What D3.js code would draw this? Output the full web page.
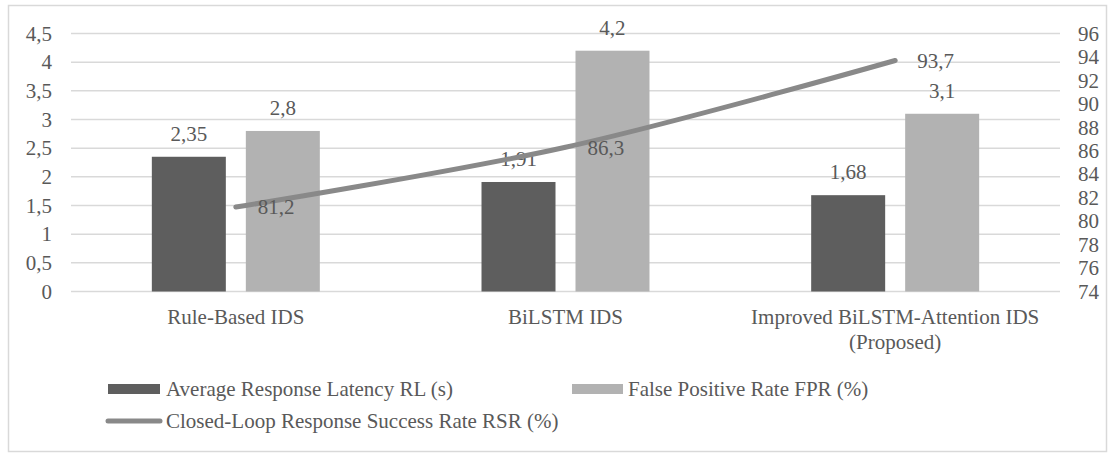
<!DOCTYPE html>
<html>
<head>
<meta charset="utf-8">
<script src="https://cdn.jsdelivr.net/npm/d3@7"></script>
<style>
  html, body { margin: 0; padding: 0; background: #fff; }
  svg { display: block; }
  text { font-family: "Liberation Serif", "DejaVu Serif", serif; fill: #595959; }
</style>
</head>
<body>
<svg id="chart" width="1108" height="456"></svg>
<script>
// Categories and series
const categories = ["Rule-Based IDS", "BiLSTM IDS", "Improved BiLSTM-Attention IDS\n(Proposed)"];
const latency = [2.35, 1.91, 1.68];        // Average Response Latency RL (s)
const fpr = [2.8, 4.2, 3.1];               // False Positive Rate FPR (%)
const rsr = [81.2, 86.3, 93.7];            // Closed-Loop Response Success Rate RSR (%)

const seriesNames = [
  "Average Response Latency RL (s)",
  "False Positive Rate FPR (%)",
  "Closed-Loop Response Success Rate RSR (%)"
];
const leftTicks = [0, 0.5, 1, 1.5, 2, 2.5, 3, 3.5, 4, 4.5];
const rightTicks = [74, 76, 78, 80, 82, 84, 86, 88, 90, 92, 94, 96];

const FONT = "'Liberation Serif', 'DejaVu Serif', serif";
const colors = { latency: "#5e5e5e", fpr: "#b2b2b2", line: "#898989", grid: "#d9d9d9" };
const fmt = v => String(v).replace(".", ",");

const svg = d3.select("#chart").attr("font-family", FONT);
const plot = { left: 71, right: 1060, top: 33.5, bottom: 291.5 };

// Outer chart border
svg.append("rect")
  .attr("x", 8.5).attr("y", 5.5)
  .attr("width", 1098).attr("height", 446)
  .attr("fill", "none").attr("stroke", colors.grid).attr("stroke-width", 1.5);

const x0 = d3.scaleBand().domain(categories).range([plot.left, plot.right]).padding(0);
const x1 = d3.scaleBand().domain(["latency", "fpr"])
  .range([0, x0.bandwidth()]).paddingInner(0.2128).paddingOuter(0.86);
const yL = d3.scaleLinear().domain([0, 4.5]).range([plot.bottom, plot.top]);
const yR = d3.scaleLinear().domain([74, 96]).range([plot.bottom, plot.top]);

// Gridlines from the left axis
svg.append("g").selectAll("line").data(leftTicks).join("line")
  .attr("x1", plot.left).attr("x2", plot.right)
  .attr("y1", d => yL(d)).attr("y2", d => yL(d))
  .attr("stroke", colors.grid).attr("stroke-width", 1.5);

// Left axis labels
const leftAxis = d3.axisLeft(yL).tickValues(leftTicks).tickFormat(fmt).tickSize(0).tickPadding(0);
const gL = svg.append("g").attr("transform", "translate(52,0)").call(leftAxis)
  .attr("font-family", FONT).attr("font-size", 21);
gL.select(".domain").remove();
gL.selectAll("text").attr("fill", "#595959");

// Right axis labels
const rightAxis = d3.axisRight(yR).tickValues(rightTicks).tickFormat(fmt).tickSize(0).tickPadding(0);
const gR = svg.append("g").attr("transform", "translate(1078,0)").call(rightAxis)
  .attr("font-family", FONT).attr("font-size", 21);
gR.select(".domain").remove();
gR.selectAll("text").attr("fill", "#595959");

// Bars
const barData = [];
categories.forEach((c, i) => {
  barData.push({ cat: c, key: "latency", value: latency[i] });
  barData.push({ cat: c, key: "fpr", value: fpr[i] });
});
svg.append("g").selectAll("rect").data(barData).join("rect")
  .attr("x", d => x0(d.cat) + x1(d.key))
  .attr("width", x1.bandwidth())
  .attr("y", d => yL(d.value))
  .attr("height", d => yL(0) - yL(d.value))
  .attr("fill", d => colors[d.key]);

// Bar value labels
svg.append("g").selectAll("text").data(barData).join("text")
  .attr("x", d => x0(d.cat) + x1(d.key) + x1.bandwidth() / 2)
  .attr("y", d => yL(d.value) - 16)
  .attr("text-anchor", "middle").attr("font-size", 21)
  .text(d => fmt(d.value));

// Smoothed success-rate line on the right axis
const linePts = categories.map((c, i) => [x0(c) + x0.bandwidth() / 2, yR(rsr[i]), rsr[i]]);
svg.append("path")
  .attr("d", d3.line().curve(d3.curveCardinal.tension(0))(linePts.map(p => [p[0], p[1]])))
  .attr("fill", "none").attr("stroke", colors.line).attr("stroke-width", 5)
  .attr("stroke-linecap", "round").attr("stroke-linejoin", "round");

svg.append("g").selectAll("text").data(linePts).join("text")
  .attr("x", d => d[0] + 22).attr("y", d => d[1])
  .attr("dy", "0.35em").attr("font-size", 21)
  .text(d => fmt(d[2]));

// Category labels (multi-line)
const catG = svg.append("g");
categories.forEach(c => {
  const t = catG.append("text")
    .attr("x", x0(c) + x0.bandwidth() / 2).attr("y", 324)
    .attr("text-anchor", "middle").attr("font-size", 21);
  c.split("\n").forEach((line, j) => {
    t.append("tspan").attr("x", x0(c) + x0.bandwidth() / 2)
      .attr("dy", j === 0 ? 0 : 25).text(line);
  });
});

// Legend
const leg = svg.append("g");
const row1 = 389, row2 = 421;
leg.append("rect").attr("x", 108).attr("y", row1 - 5).attr("width", 52).attr("height", 10).attr("fill", colors.latency);
leg.append("text").attr("x", 166).attr("y", row1).attr("dy", "0.35em").attr("font-size", 21).text(seriesNames[0]);
leg.append("rect").attr("x", 572).attr("y", row1 - 5).attr("width", 51).attr("height", 10).attr("fill", colors.fpr);
leg.append("text").attr("x", 628).attr("y", row1).attr("dy", "0.35em").attr("font-size", 21).text(seriesNames[1]);
leg.append("line").attr("x1", 108).attr("x2", 160).attr("y1", row2).attr("y2", row2)
  .attr("stroke", colors.line).attr("stroke-width", 5).attr("stroke-linecap", "round");
leg.append("text").attr("x", 166).attr("y", row2).attr("dy", "0.35em").attr("font-size", 21).text(seriesNames[2]);
</script>
</body>
</html>
